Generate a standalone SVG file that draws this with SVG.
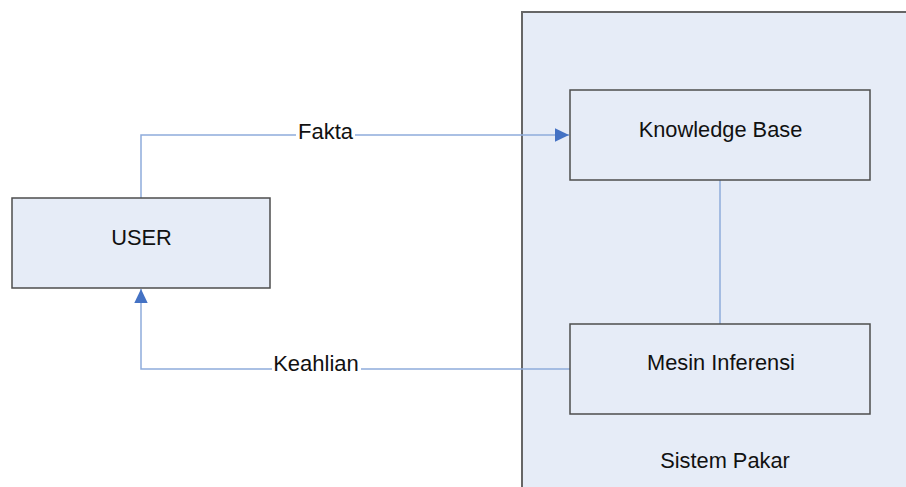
<svg xmlns="http://www.w3.org/2000/svg" width="906" height="487" viewBox="0 0 906 487">
<defs>
<style>
.box{fill:#E6ECF7;stroke:#4D4D4D;stroke-width:1.5}
.cont{fill:#E6ECF7;stroke:#666666;stroke-width:2}
.conn{fill:none;stroke:#8EACDB;stroke-width:1.5}
.t{font-family:"Liberation Sans",Arial,sans-serif;font-size:21.8px;fill:#111;text-anchor:middle}
.lbl{fill:#ffffff}
</style>
<marker id="arr" markerWidth="14" markerHeight="14" refX="14" refY="7" orient="auto" markerUnits="userSpaceOnUse" viewBox="0 0 14 14">
<path d="M0,0.3 L14,7 L0,13.7 Z" fill="#4472C4"/>
</marker>
</defs>
<rect width="906" height="487" fill="#ffffff"/>
<g id="sistem-pakar">
<rect class="cont" x="522" y="12" width="400" height="490"/>
<text class="t" x="725" y="468">Sistem Pakar</text>
</g>
<g id="connectors">
<path class="conn" d="M141,198 V135 H569" marker-end="url(#arr)"/>
<path class="conn" d="M570,369 H141 V289" marker-end="url(#arr)"/>
<path class="conn" d="M720,180 V324"/>
<rect class="lbl" x="296" y="120" width="59" height="24"/>
<text class="t" x="325.5" y="139" style="font-size:22px">Fakta</text>
<rect class="lbl" x="272" y="354" width="89" height="24"/>
<text class="t" x="316" y="371" style="font-size:22px">Keahlian</text>
</g>
<g id="user">
<rect class="box" x="12" y="198" width="258" height="90"/>
<text class="t" x="141.5" y="245">USER</text>
</g>
<g id="knowledge-base">
<rect class="box" x="570" y="90" width="300" height="90"/>
<text class="t" x="720.5" y="137">Knowledge Base</text>
</g>
<g id="mesin-inferensi">
<rect class="box" x="570" y="324" width="300" height="90"/>
<text class="t" x="721" y="370">Mesin Inferensi</text>
</g>
</svg>
